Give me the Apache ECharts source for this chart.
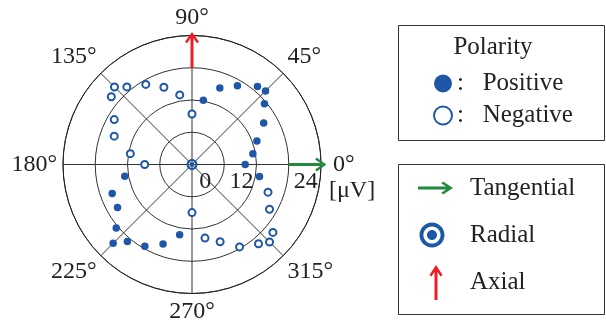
<!DOCTYPE html>
<html>
<head>
<meta charset="utf-8">
<script src="https://cdn.jsdelivr.net/npm/echarts@6/dist/echarts.min.js"></script>
<style>
  html, body { margin: 0; padding: 0; background: #fff; }
  #chart { width: 606px; height: 320px; }
</style>
</head>
<body>
<div id="chart"></div>
<script>
// polarity data, angle in degrees, amplitude in uV
const positiveAngle = [80, 70, 60, 50, 45, 40, 30, 20, 10, 0, 350, 190, 200, 210, 220, 225, 230, 240, 250, 260];
const positiveValue = [12.3, 18.3, 21.8, 25.9, 26.7, 23.2, 18.8, 13.7, 11, 7.8, 13.5, 13.4, 19.6, 20, 24.8, 29.5, 25.4, 23.1, 19.5, 14.5];
const negativeAngle = [90, 100, 110, 120, 130, 135, 140, 150, 160, 170, 180, 270, 280, 290, 300, 310, 315, 320, 330, 340];
const negativeValue = [6.8, 14.3, 18.6, 22.4, 25.7, 28.8, 27.2, 21.4, 18.8, 11.3, 5.6, 5.9, 15.8, 18.6, 23.4, 26.5, 28.8, 27.3, 21.3, 18.1];
const radiusTicks = [0, 12, 24];
const angleTicks = [0, 45, 90, 135, 180, 225, 270, 315];
// direction markers: [start, end] amplitude
const tangentialArrow = [24, 38];
const axialArrow = [24, 37.3];
const radialValue = -12;

const blue = '#1f57a8';
const green = '#228a3e';
const red = '#ee1c25';
const serif = 'Liberation Serif';

// circle as bezier path, ccw reverses winding so it punches a hole
function circ(cx, cy, r, ccw) {
  const k = 0.5523 * r;
  if (!ccw) {
    return `M${cx + r} ${cy} C${cx + r} ${cy + k} ${cx + k} ${cy + r} ${cx} ${cy + r} C${cx - k} ${cy + r} ${cx - r} ${cy + k} ${cx - r} ${cy} C${cx - r} ${cy - k} ${cx - k} ${cy - r} ${cx} ${cy - r} C${cx + k} ${cy - r} ${cx + r} ${cy - k} ${cx + r} ${cy} Z `;
  }
  return `M${cx + r} ${cy} C${cx + r} ${cy - k} ${cx + k} ${cy - r} ${cx} ${cy - r} C${cx - k} ${cy - r} ${cx - r} ${cy - k} ${cx - r} ${cy} C${cx - r} ${cy + k} ${cx - k} ${cy + r} ${cx} ${cy + r} C${cx + k} ${cy + r} ${cx + r} ${cy + k} ${cx + r} ${cy} Z `;
}

const chevron = 'path://M6 0 M6 24 M0 21 L6 12 L12 21 L10.3 22.4 L6 15.6 L1.7 22.4 Z';
const radialMark = 'path://' + circ(5, 5, 5) + circ(5, 5, 3.1, true) + circ(5, 5, 2);
const iconTangential = 'path://M0 0 M50 40 M3 18.5 L35 18.5 L35 21.5 L3 21.5 Z M28 13.5 L38 20 L28 26.5 L26.5 24.5 L33.5 20 L26.5 15.5 Z';
const iconRadial = 'path://M0 0 M50 40 ' + circ(17, 20, 12.5) + circ(17, 20, 8.6, true) + circ(17, 20, 5);
const iconAxial = 'path://M0 0 M50 40 M19.5 6 L22.5 6 L22.5 38 L19.5 38 Z M14.5 13 L21 3 L27.5 13 L25.5 14.5 L21 7.5 L16.5 14.5 Z';

const chart = echarts.init(document.getElementById('chart'));

const labelRich = {
  r0: { fontFamily: serif, fontSize: 24, color: '#222', padding: [0, 38, 0, 0] },
  r12: { fontFamily: serif, fontSize: 24, color: '#222', padding: [0, 30, 0, 0] },
  r24: { fontFamily: serif, fontSize: 24, color: '#222', padding: [0, 0, 0, 34] }
};

const option = {
  animation: false,
  backgroundColor: '#fff',
  polar: { center: [192, 164.5], radius: 129 },
  angleAxis: {
    type: 'value', min: 0, max: 360, interval: 45,
    startAngle: 0, clockwise: false,
    axisLine: { lineStyle: { color: '#222', width: 1 } },
    axisTick: { show: false },
    splitLine: { lineStyle: { color: '#333', width: 1 } },
    axisLabel: {
      margin: 6,
      fontFamily: serif, fontSize: 24, color: '#222',
      formatter: v => angleTicks.indexOf(v) < 0 ? '' : (v === 0 ? '{z|0°}' : v + '°'),
      rich: { z: { fontFamily: serif, fontSize: 24, color: '#222', padding: [0, 0, 0, 6] } }
    }
  },
  radiusAxis: {
    type: 'value', min: -12, max: 36, interval: 12,
    name: '\n\n[μV]', nameLocation: 'end', nameGap: 8,
    nameTextStyle: { fontFamily: serif, fontSize: 24, lineHeight: 26, color: '#222' },
    axisLine: { show: false },
    axisTick: { show: false },
    splitLine: { lineStyle: { color: '#333', width: 1 } },
    axisLabel: {
      margin: -5, verticalAlign: 'top',
      formatter: v => radiusTicks.indexOf(v) < 0 ? '' : '{r' + v + '|' + v + '}',
      rich: labelRich
    }
  },
  legend: [{
    orient: 'vertical', left: 428, top: 66,
    itemWidth: 18, itemHeight: 18, itemGap: 7,
    textStyle: { fontFamily: serif, fontSize: 25, color: '#222' },
    formatter: n => ':   ' + n,
    data: [
      { name: 'Positive', icon: 'circle' },
      { name: 'Negative', icon: 'emptyCircle', itemStyle: { borderWidth: 2.5 } }
    ]
  }, {
    orient: 'vertical', left: 410, top: 163,
    itemWidth: 50, itemHeight: 40, itemGap: 7,
    textStyle: { fontFamily: serif, fontSize: 25, color: '#222' },
    data: [
      { name: 'Tangential', icon: iconTangential, itemStyle: { color: green } },
      { name: 'Radial', icon: iconRadial, itemStyle: { color: blue } },
      { name: 'Axial', icon: iconAxial, itemStyle: { color: red } }
    ]
  }],
  graphic: [
    { type: 'rect', shape: { x: 398.5, y: 25.5, width: 206, height: 115 }, style: { fill: 'none', stroke: '#333', lineWidth: 1 } },
    { type: 'rect', shape: { x: 398.5, y: 164.5, width: 206, height: 150 }, style: { fill: 'none', stroke: '#333', lineWidth: 1 } },
    { type: 'text', x: 493, y: 47, style: { text: 'Polarity', fontFamily: serif, fontSize: 25, fill: '#222', align: 'center', verticalAlign: 'middle' } }
  ],
  series: [
    {
      name: 'Positive', type: 'scatter', coordinateSystem: 'polar',
      symbol: 'circle', symbolSize: 7.5,
      itemStyle: { color: blue, opacity: 1 },
      data: positiveAngle.map((a, i) => [positiveValue[i], a])
    },
    {
      name: 'Negative', type: 'scatter', coordinateSystem: 'polar',
      symbol: 'emptyCircle', symbolSize: 7,
      itemStyle: { color: blue, borderColor: blue, borderWidth: 1.9, opacity: 1 },
      data: negativeAngle.map((a, i) => [negativeValue[i], a])
    },
    {
      name: 'Radial', type: 'scatter', coordinateSystem: 'polar',
      symbol: radialMark, symbolSize: 11, z: 5,
      itemStyle: { color: blue, opacity: 1 },
      data: [[radialValue, 0]]
    },
    {
      name: 'Tangential', type: 'line', coordinateSystem: 'polar', clip: false, z: 6,
      lineStyle: { color: green, width: 3 }, itemStyle: { color: green },
      data: [
        { value: [tangentialArrow[0], 0], symbol: 'none' },
        { value: [tangentialArrow[1], 0], symbol: chevron, symbolSize: [14, 26], symbolRotate: -90 }
      ]
    },
    {
      name: 'Axial', type: 'line', coordinateSystem: 'polar', clip: false, z: 6,
      lineStyle: { color: red, width: 3 }, itemStyle: { color: red },
      data: [
        { value: [axialArrow[0], 90], symbol: 'none' },
        { value: [axialArrow[1], 90], symbol: chevron, symbolSize: [14, 26], symbolRotate: 0 }
      ]
    }
  ]
};
chart.setOption(option);
</script>
</body>
</html>
